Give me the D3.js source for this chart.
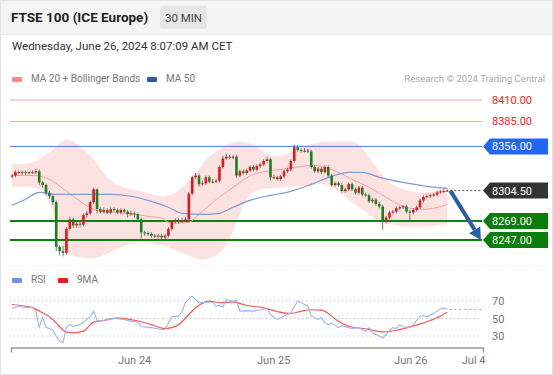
<!DOCTYPE html>
<html>
<head>
  <style>
    body { margin: 0; background: #fff; }
    text { font-family: Roboto, "Liberation Sans", sans-serif; }
  </style>
</head>
<body>
  <svg id="chart" width="553" height="375"></svg>
  <script src="https://d3js.org/d3.v7.min.js"></script>
  <script>
    // 30 min candles, index 0 = first bar on screen, 128 = last (Jun 26 ~8:00)
    const closes = [
      8322, 8326, 8326, 8325, 8326, 8325, 8326, 8327, 8314, 8311,
      8302, 8298, 8291, 8239, 8234, 8232, 8260, 8271, 8264, 8266,
      8265, 8276, 8278, 8291, 8306, 8283, 8280, 8282, 8279, 8283,
      8282, 8279, 8282, 8280, 8277, 8278, 8277, 8271, 8256, 8255,
      8254, 8252, 8251, 8252, 8250, 8252, 8260, 8268, 8269, 8269,
      8270, 8271, 8301, 8320, 8322, 8312, 8313, 8320, 8315, 8315,
      8316, 8332, 8342, 8344, 8343, 8344, 8322, 8327, 8325, 8328,
      8332, 8329, 8333, 8335, 8339, 8341, 8320, 8320, 8318, 8321,
      8327, 8329, 8339, 8355, 8352, 8351, 8351, 8350, 8332, 8327,
      8330, 8326, 8332, 8322, 8311, 8313, 8311, 8304, 8306, 8312,
      8306, 8302, 8308, 8300, 8299, 8292, 8294, 8289, 8286, 8269,
      8273, 8279, 8280, 8284, 8285, 8286, 8280, 8279, 8282, 8285,
      8293, 8297, 8298, 8299, 8300, 8302.5, 8303.5, 8304, 8304.5
    ]
    const firstOpen = 8321
    const highs = [
      8324, 8328, 8328, 8328, 8328, 8327, 8328, 8330, 8329, 8316,
      8313, 8304, 8300, 8293, 8241, 8240, 8262, 8274, 8273, 8269,
      8268, 8278, 8281, 8293, 8308, 8307, 8285, 8285, 8284, 8285,
      8285, 8284, 8284, 8284, 8282, 8281, 8280, 8279, 8273, 8258,
      8257, 8256, 8254, 8254, 8254, 8254, 8262, 8270, 8272, 8272,
      8273, 8274, 8303, 8322, 8325, 8324, 8316, 8322, 8322, 8318,
      8318, 8334, 8345, 8347, 8346, 8346, 8346, 8329, 8329, 8330,
      8334, 8334, 8335, 8337, 8341, 8344, 8343, 8323, 8322, 8323,
      8329, 8331, 8341, 8358, 8357, 8354, 8354, 8353, 8352, 8334,
      8332, 8332, 8334, 8334, 8324, 8315, 8315, 8313, 8308, 8314,
      8314, 8308, 8310, 8310, 8302, 8301, 8296, 8296, 8291, 8288,
      8275, 8281, 8282, 8286, 8287, 8288, 8288, 8282, 8284, 8287,
      8295, 8299, 8300, 8301, 8302, 8304, 8305, 8306, 8306
    ]
    const lows = [
      8319, 8320, 8324, 8323, 8323, 8323, 8324, 8324, 8311, 8308,
      8299, 8295, 8288, 8234, 8229, 8228, 8230, 8258, 8261, 8261,
      8262, 8263, 8273, 8276, 8289, 8278, 8278, 8278, 8277, 8277,
      8280, 8277, 8277, 8278, 8273, 8275, 8273, 8268, 8249, 8252,
      8252, 8250, 8249, 8249, 8248, 8248, 8250, 8258, 8266, 8266,
      8267, 8268, 8269, 8299, 8318, 8309, 8310, 8311, 8313, 8313,
      8313, 8314, 8330, 8340, 8341, 8341, 8319, 8320, 8323, 8323,
      8326, 8327, 8327, 8331, 8333, 8337, 8316, 8318, 8316, 8316,
      8319, 8325, 8327, 8337, 8350, 8349, 8349, 8348, 8330, 8325,
      8325, 8324, 8324, 8320, 8309, 8309, 8309, 8302, 8302, 8304,
      8304, 8300, 8300, 8298, 8297, 8290, 8290, 8287, 8284, 8259,
      8266, 8271, 8277, 8278, 8282, 8283, 8278, 8269, 8277, 8280,
      8283, 8291, 8295, 8296, 8297, 8298, 8301, 8302, 8303
    ]

    // moving averages / bollinger bands, sampled at bar indices
    const ma20Idx = [0, 7, 12, 16, 20, 24, 28, 34, 40, 44, 46, 49, 52, 55, 59, 63, 67, 71, 75, 79, 83, 89, 92, 96, 100, 105, 110, 115, 120, 124, 128]
    const ma20 = [8322.3, 8322, 8315.3, 8303.7, 8292, 8282.7, 8279.3, 8278.1, 8274.6, 8272.3, 8267.6, 8266.5, 8267.6, 8276.9, 8290.9, 8302.5, 8314.1, 8323.4, 8326.9, 8329.3, 8331.6, 8333.9, 8331.6, 8325.8, 8317.6, 8308.3, 8296.7, 8286.2, 8282.7, 8283.9, 8288.6]
    const ma50Idx = [0, 4, 8, 13, 21, 29, 35, 41, 46, 50, 57, 61, 65, 69, 76, 82, 88, 94, 99, 103, 108, 115, 122, 128]
    const ma50 = [8287.4, 8294.4, 8302.5, 8300.2, 8300.2, 8300.2, 8297.9, 8292, 8285.1, 8278.1, 8276.9, 8278.1, 8285.1, 8292, 8299, 8303.7, 8311.8, 8321.1, 8325.8, 8325.8, 8320, 8314.1, 8309.5, 8307.2]
    const bbUpIdx = [0, 6, 11, 16, 20, 24, 28, 32, 38, 44, 47, 51, 55, 58, 61, 65, 69, 73, 77, 82, 86, 91, 99, 101, 104, 107, 111, 115, 119, 124, 127, 128]
    const bbUp = [8335.1, 8337.4, 8349, 8364.1, 8356, 8340.9, 8320, 8309.5, 8303.7, 8297.9, 8300.2, 8311.8, 8329.3, 8344.4, 8352.5, 8360.7, 8360.7, 8352.5, 8344.4, 8349, 8356, 8360.7, 8361.8, 8360.7, 8349, 8332.7, 8314.1, 8306, 8302.5, 8303.7, 8309.5, 8308.3]
    const bbLoIdx = [0, 6, 9, 12, 14, 16, 20, 24, 29, 32, 38, 42, 46, 51, 55, 59, 62, 64, 68, 71, 79, 86, 92, 96, 99, 103, 107, 111, 117, 123, 128]
    const bbLo = [8308.3, 8308.3, 8302.5, 8279.3, 8247.9, 8232.7, 8226.9, 8225.8, 8232.7, 8238.6, 8244.4, 8242, 8238.6, 8230.4, 8224.6, 8226.9, 8236.2, 8247.9, 8286.2, 8302.5, 8308.3, 8309.5, 8311.8, 8303.7, 8294.4, 8282.7, 8271.1, 8265.3, 8263, 8263, 8265.3]

    // RSI panel
    const rsiIdx = [0, 2, 4, 6, 7, 8, 9, 10, 12, 13, 14, 15, 16, 17, 18, 20, 21, 23, 24, 25, 26, 28, 30, 33, 35, 37, 38, 41, 44, 45, 46, 47, 49, 50, 51, 52, 53, 54, 55, 57, 59, 60, 61, 62, 63, 65, 66, 67, 69, 71, 74, 75, 76, 78, 80, 81, 82, 84, 85, 87, 88, 90, 91, 92, 93, 94, 96, 97, 99, 100, 102, 103, 104, 105, 106, 107, 109, 110, 111, 112, 113, 114, 115, 117, 118, 120, 121, 122, 124, 125, 126, 127, 128]
    const rsi = [61.4, 64, 62.5, 63, 58, 40, 51, 40, 37, 30, 24, 22.5, 40, 43, 41, 43, 46, 52, 58.4, 48, 47, 49, 50, 49, 47, 46, 40.8, 39.6, 37.4, 37.4, 45, 52, 52.7, 58.5, 68, 72.5, 75.5, 71.7, 68, 68.6, 68.6, 64, 65.2, 63, 71.7, 69.8, 70.5, 58.4, 59, 58.4, 60.3, 61.4, 54.6, 48.9, 52.7, 54.6, 56.5, 69.8, 68, 64, 52.7, 48.9, 50.8, 45, 43, 45, 39.6, 42, 39.6, 38.5, 39.6, 37.4, 35.5, 39.6, 33.6, 31.7, 27.9, 31.7, 36.6, 39.6, 38.6, 43, 40.5, 39.6, 43, 52.7, 53.4, 52, 55.7, 58.4, 61, 62.2, 60.3]
    const ma9Idx = [0, 6, 9, 12, 14, 16, 18, 21, 24, 27, 31, 36, 41, 45, 49, 52, 54, 58, 61, 65, 69, 74, 76, 82, 85, 88, 91, 96, 99, 104, 109, 113, 117, 121, 125, 128]
    const ma9 = [66, 62.2, 56.5, 48.9, 40.5, 34.4, 33.6, 35.5, 45.8, 47.7, 50.8, 48, 43, 38.5, 43, 54.6, 62.2, 69.8, 68, 69, 64.9, 62.2, 60, 55.7, 58.4, 60, 59.5, 46.9, 41.2, 38.3, 34.8, 36.6, 40.5, 45, 50.8, 57.2]
    const rsiLevels = [70, 50, 30]

    const resistances = [8410, 8385]
    const pivot = 8356
    const supports = [8269, 8247]
    const lastPrice = 8304.5
    const dayTickIdx = [35.9, 76.8, 117.1, 135.6]
    const dayTickLabels = ['Jun 24', 'Jun 25', 'Jun 26', 'Jul 4']

    const svg = d3.select('#chart')
    const W = 553, H = 375

    const x = d3.scaleLinear().domain([-0.3, 138.5]).range([11, 483])
    const y = d3.scaleLinear().domain([8247, 8410]).range([240, 100])
    const yr = d3.scaleLinear().domain([30, 70]).range([336, 301])
    const lineR = 482

    // frame + header
    svg.append('rect').attr('x', 0.5).attr('y', 0.5).attr('width', W - 1).attr('height', H - 1)
      .attr('fill', '#fff').attr('stroke', '#e2e2e2')
    svg.append('rect').attr('x', 1).attr('y', 1).attr('width', W - 2).attr('height', 33).attr('fill', '#f5f5f5')
    svg.append('line').attr('x1', 1).attr('x2', W - 1).attr('y1', 34.5).attr('y2', 34.5).attr('stroke', '#e6e6e6')
    svg.append('text').attr('x', 11).attr('y', 22).text('FTSE 100 (ICE Europe)')
      .attr('font-size', 13.5).attr('font-weight', 'bold').attr('fill', '#222')
    svg.append('rect').attr('x', 160).attr('y', 6).attr('width', 47).attr('height', 23).attr('rx', 2).attr('fill', '#e6e6e6')
    svg.append('text').attr('x', 183.5).attr('y', 22).attr('text-anchor', 'middle').text('30 MIN')
      .attr('font-size', 11.5).attr('fill', '#444')
    svg.append('text').attr('x', 12).attr('y', 50).text('Wednesday, June 26, 2024 8:07:09 AM CET')
      .attr('font-size', 11.5).attr('fill', '#333')

    // legend
    const legend = (lx, ly, color, label) => {
      svg.append('rect').attr('x', lx).attr('y', ly - 4).attr('width', 10).attr('height', 5).attr('rx', 1).attr('fill', color)
      svg.append('text').attr('x', lx + 19).attr('y', ly + 1).text(label).attr('font-size', 10).attr('fill', '#777')
    }
    legend(12, 81, '#f98a8a', 'MA 20 + Bollinger Bands')
    legend(147, 81, '#2f5da3', 'MA 50')
    svg.append('text').attr('x', 545).attr('y', 82).attr('text-anchor', 'end')
      .text('Research \u00a9 2024 Trading Central').attr('font-size', 9.6).attr('fill', '#aaa')

    // bollinger band fill
    const pts = (idx, vals, sy) => idx.map((d, i) => [x(d), sy(vals[i])])
    const curve = d3.line().curve(d3.curveCatmullRom.alpha(0.5))
    const upPath = curve(pts(bbUpIdx, bbUp, y))
    const loPath = curve(pts(bbLoIdx, bbLo, y).reverse())
    svg.append('path').attr('d', upPath + 'L' + loPath.slice(1) + 'Z').attr('fill', '#fde2e2')

    // level lines
    resistances.forEach(v => {
      svg.append('line').attr('x1', 10).attr('x2', lineR).attr('y1', y(v)).attr('y2', y(v)).attr('stroke', '#f9a3a3')
      svg.append('text').attr('x', 492).attr('y', y(v) + 4).text(v.toFixed(2)).attr('font-size', 11).attr('fill', '#f22')
    })
    svg.append('line').attr('x1', 10).attr('x2', lineR).attr('y1', y(pivot)).attr('y2', y(pivot)).attr('stroke', '#4b78ee')
    supports.forEach(v => {
      svg.append('line').attr('x1', 10).attr('x2', lineR).attr('y1', y(v)).attr('y2', y(v))
        .attr('stroke', '#0b840b').attr('stroke-width', 2)
    })

    // MA lines
    const smooth = d3.line().curve(d3.curveMonotoneX)
    svg.append('path').attr('d', smooth(pts(ma20Idx, ma20, y))).attr('fill', 'none').attr('stroke', '#f9a0a0').attr('stroke-width', 1)
    svg.append('path').attr('d', smooth(pts(ma50Idx, ma50, y))).attr('fill', 'none').attr('stroke', '#7f9bd4').attr('stroke-width', 1.2)

    // candles
    const candles = closes.map((c, i) => ({ i, o: i ? closes[i - 1] : firstOpen, c, h: highs[i], l: lows[i] }))
    const g = svg.append('g')
    g.selectAll('.wick').data(candles).enter().append('line')
      .attr('x1', d => x(d.i)).attr('x2', d => x(d.i))
      .attr('y1', d => y(d.h)).attr('y2', d => y(d.l))
      .attr('stroke', '#555').attr('stroke-width', 0.8)
    g.selectAll('.body').data(candles).enter().append('rect')
      .attr('x', d => x(d.i) - 1.3).attr('width', 2.6)
      .attr('y', d => y(Math.max(d.o, d.c)))
      .attr('height', d => Math.max(1, Math.abs(y(d.o) - y(d.c))))
      .attr('fill', d => d.c >= d.o ? '#e3161c' : '#14831a')

    // last price dotted line
    svg.append('line').attr('x1', x(128) + 3).attr('x2', lineR).attr('y1', y(lastPrice)).attr('y2', y(lastPrice))
      .attr('stroke', '#555').attr('stroke-dasharray', '2,2')

    // forecast arrow
    const ax0 = x(128) + 3, ay0 = y(lastPrice), ax1 = x(137.9), ay1 = y(8247)
    const ang = Math.atan2(ay1 - ay0, ax1 - ax0)
    const hl = 12, hw = 6.5
    const bx = ax1 - hl * Math.cos(ang), by = ay1 - hl * Math.sin(ang)
    svg.append('line').attr('x1', ax0).attr('y1', ay0).attr('x2', bx).attr('y2', by)
      .attr('stroke', '#2c5ea8').attr('stroke-width', 4)
    svg.append('polygon').attr('fill', '#2c5ea8').attr('points', [
      [ax1, ay1],
      [bx + hw * Math.sin(ang), by - hw * Math.cos(ang)],
      [bx - hw * Math.sin(ang), by + hw * Math.cos(ang)]
    ].map(p => p.join(',')).join(' '))

    // price tags
    const tag = (v, color) => {
      const ty = y(v)
      svg.append('polygon').attr('fill', color).attr('points',
        [[483, ty], [490, ty - 8], [548, ty - 8], [548, ty + 8], [490, ty + 8]].map(p => p.join(',')).join(' '))
      svg.append('text').attr('x', 492).attr('y', ty + 4).text(v.toFixed(2)).attr('font-size', 11).attr('fill', '#fff')
    }
    tag(pivot, '#2167f5')
    tag(lastPrice, '#333')
    tag(supports[0], '#0b7d0b')
    tag(supports[1], '#0b7d0b')

    // panel separator
    svg.append('line').attr('x1', 8).attr('x2', 548).attr('y1', 265.5).attr('y2', 265.5)
      .attr('stroke', '#e4e4e4').attr('stroke-dasharray', '1,2')

    // RSI panel
    legend(12, 282, '#6f8ff0', 'RSI')
    legend(58, 282, '#f01818', '9MA')
    rsiLevels.forEach(v => {
      svg.append('line').attr('x1', 10).attr('x2', lineR).attr('y1', yr(v)).attr('y2', yr(v))
        .attr('stroke', '#bbb').attr('stroke-dasharray', '1,3')
      svg.append('text').attr('x', 492).attr('y', yr(v) + 4).text(v).attr('font-size', 11).attr('fill', '#777')
    })
    svg.append('path').attr('d', smooth(pts(ma9Idx, ma9, yr))).attr('fill', 'none').attr('stroke', '#f55').attr('stroke-width', 1.2)
    svg.append('path').attr('d', d3.line()(pts(rsiIdx, rsi, yr))).attr('fill', 'none').attr('stroke', '#9db3f2').attr('stroke-width', 1.1)
    svg.append('line').attr('x1', x(128) + 2).attr('x2', lineR).attr('y1', yr(rsi[rsi.length - 1])).attr('y2', yr(rsi[rsi.length - 1]))
      .attr('stroke', '#8ea6ef').attr('stroke-dasharray', '2,3')

    // time axis
    const xAxis = d3.axisBottom(x).tickValues(dayTickIdx).tickFormat((d, i) => dayTickLabels[i])
      .tickSizeInner(0).tickSizeOuter(5).tickPadding(9)
    const ax = svg.append('g').attr('transform', 'translate(0,347.5)').call(xAxis)
    ax.select('.domain').attr('stroke', '#999').attr('stroke-width', 1.5)
    ax.selectAll('text').attr('font-size', 11).attr('fill', '#777').attr('font-family', 'Roboto, sans-serif')
  </script>
</body>
</html>
